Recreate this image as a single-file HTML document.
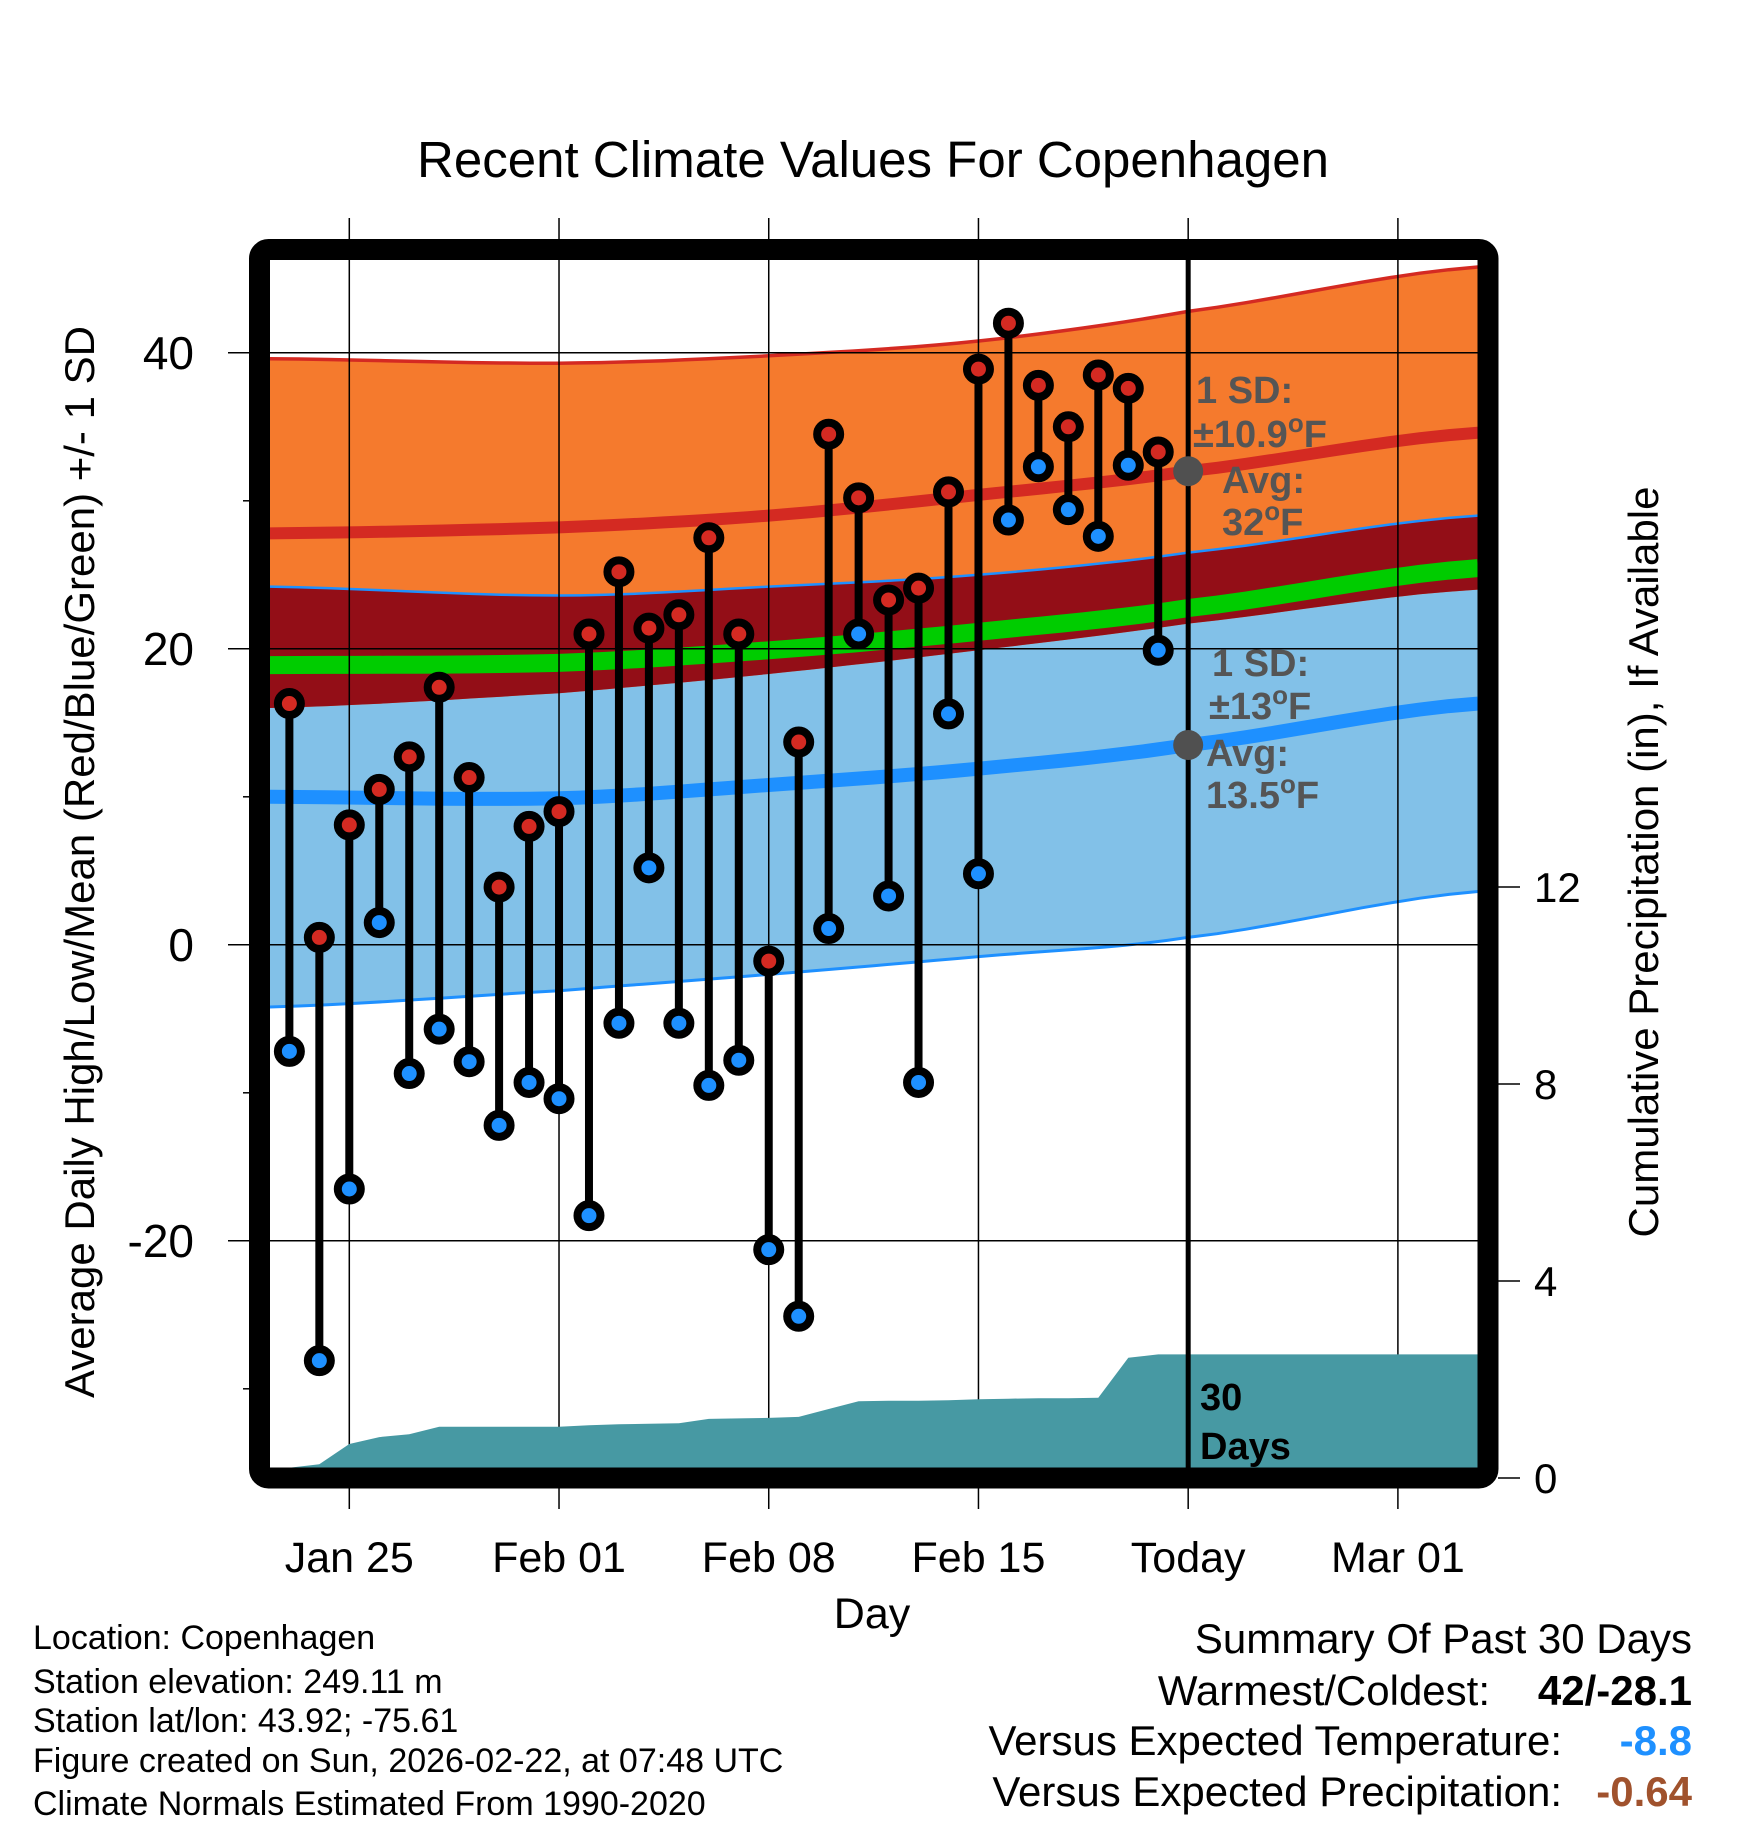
<!DOCTYPE html>
<html><head><meta charset="utf-8"><style>
html,body{margin:0;padding:0;background:#fff;}
svg{display:block;font-family:"Liberation Sans",sans-serif;}
</style></head><body>
<svg id="chart" width="1748" height="1828" viewBox="0 0 1748 1828" xmlns="http://www.w3.org/2000/svg">
<defs><clipPath id="plotClip"><rect x="270" y="260" width="1208" height="1208"/></clipPath></defs>
<g id="bands" clip-path="url(#plotClip)"></g>
<g id="grid"></g>
<g id="precip" clip-path="url(#plotClip)"></g>
<g id="marks"></g>
<g id="axes"></g>
<rect x="259.5" y="249.5" width="1228.5" height="1228.5" rx="9" fill="none" stroke="#000" stroke-width="21"/>
<text x="873" y="177" font-size="51" text-anchor="middle">Recent Climate Values For Copenhagen</text>
<text x="872" y="1628" font-size="43" text-anchor="middle">Day</text>
<text transform="translate(94,862) rotate(-90)" font-size="42" text-anchor="middle">Average Daily High/Low/Mean (Red/Blue/Green) +/- 1 SD</text>
<text transform="translate(1658,862) rotate(-90)" font-size="42" text-anchor="middle">Cumulative Precipitation (in), If Available</text>
<g font-weight="bold" font-size="38" fill="#555">
<text x="1196" y="403">1 SD:</text>
<text x="1193" y="447">±10.9<tspan font-size="26" dy="-15">o</tspan><tspan dy="15">F</tspan></text>
<text x="1222" y="493">Avg:</text>
<text x="1222" y="535">32<tspan font-size="26" dy="-15">o</tspan><tspan dy="15">F</tspan></text>
<text x="1212" y="676">1 SD:</text>
<text x="1209" y="719">±13<tspan font-size="26" dy="-15">o</tspan><tspan dy="15">F</tspan></text>
<text x="1206" y="766">Avg:</text>
<text x="1206" y="808">13.5<tspan font-size="26" dy="-15">o</tspan><tspan dy="15">F</tspan></text>
<text x="1200" y="1410" fill="#000">30</text>
<text x="1200" y="1459" fill="#000">Days</text>
</g>
<g font-size="34">
<text x="33" y="1649">Location: Copenhagen</text>
<text x="33" y="1693">Station elevation: 249.11 m</text>
<text x="33" y="1732">Station lat/lon: 43.92; -75.61</text>
<text x="33" y="1772">Figure created on Sun, 2026-02-22, at 07:48 UTC</text>
<text x="33" y="1815">Climate Normals Estimated From 1990-2020</text>
</g>
<g font-size="42">
<text x="1692" y="1653" text-anchor="end">Summary Of Past 30 Days</text>
<text x="1490" y="1705" text-anchor="end">Warmest/Coldest:</text>
<text x="1692" y="1705" text-anchor="end" font-weight="bold">42/-28.1</text>
<text x="1562" y="1755" text-anchor="end">Versus Expected Temperature:</text>
<text x="1692" y="1755" text-anchor="end" font-weight="bold" fill="#1e90ff">-8.8</text>
<text x="1562" y="1806" text-anchor="end">Versus Expected Precipitation:</text>
<text x="1692" y="1806" text-anchor="end" font-weight="bold" fill="#a0522d">-0.64</text>
</g>
</svg>
<script>
// ---- data ----
const dayLabels = ["Jan 23","Jan 24","Jan 25","Jan 26","Jan 27","Jan 28","Jan 29","Jan 30","Jan 31","Feb 01","Feb 02","Feb 03","Feb 04","Feb 05","Feb 06","Feb 07","Feb 08","Feb 09","Feb 10","Feb 11","Feb 12","Feb 13","Feb 14","Feb 15","Feb 16","Feb 17","Feb 18","Feb 19","Feb 20","Feb 21"];
const dayOffsets = [-2,-1,0,1,2,3,4,5,6,7,8,9,10,11,12,13,14,15,16,17,18,19,20,21,22,23,24,25,26,27];
const highs = [16.3,0.5,8.1,10.5,12.7,17.4,11.3,3.9,8.0,9.0,21.0,25.2,21.4,22.3,27.5,21.0,-1.1,13.7,34.5,30.2,23.3,24.1,30.6,38.9,42.0,37.8,35.0,38.5,37.6,33.3];
const lows = [-7.2,-28.1,-16.5,1.5,-8.7,-5.7,-7.9,-12.2,-9.3,-10.4,-18.3,-5.3,5.2,-5.3,-9.5,-7.8,-20.6,-25.1,1.1,21.0,3.3,-9.3,15.6,4.8,28.7,32.3,29.4,27.6,32.4,19.9];
const precipCum = [0.21,0.28,0.69,0.83,0.89,1.04,1.04,1.04,1.04,1.04,1.07,1.09,1.10,1.11,1.20,1.21,1.22,1.24,1.40,1.56,1.57,1.57,1.58,1.60,1.61,1.62,1.62,1.63,2.44,2.51];
const normDays = [-2.65,7,14,21,28,37.67];
const highUpper = [39.6,39.3,39.8,40.8,42.8,45.8];
const highAvg = [27.8,28.2,29.0,30.4,32.0,34.6];
const highLower = [16.0,17.0,18.3,19.9,21.7,24.0];
const lowUpper = [24.2,23.6,24.2,25.0,26.5,29.0];
const lowAvg = [10.0,9.9,10.8,11.9,13.5,16.3];
const lowLower = [-4.2,-3.1,-2.0,-0.8,0.5,3.6];
const meanAvg = [18.9,19.05,19.9,21.15,22.75,25.45];
const xTickDays = [0,7,14,21,28,35];
const xTickLabels = ["Jan 25","Feb 01","Feb 08","Feb 15","Today","Mar 01"];
const yTicks = [40,20,0,-20];
const yMinorTicks = [30,10,-10,-30];
const y2Ticks = [0,4,8,12];
const todayDay = 28;
const todayHighAvg = 32.0;
const todayLowAvg = 13.5;

// ---- scales ----
const X = d => 349.3 + d * 29.96;
const Y = v => 944.8 - v * 14.8;
const Y2 = p => 1478 - p * 49.25;
const NS = "http://www.w3.org/2000/svg";
function mk(tag, attrs, parent){
  const e = document.createElementNS(NS, tag);
  for (const k in attrs) e.setAttribute(k, attrs[k]);
  parent.appendChild(e); return e;
}
function smoothPts(days, vals){
  const pts=[]; const n=days.length;
  for(let i=0;i<n-1;i++){
    const p0=vals[Math.max(i-1,0)],p1=vals[i],p2=vals[i+1],p3=vals[Math.min(i+2,n-1)];
    for(let s=0;s<10;s++){
      const t=s/10,t2=t*t,t3=t2*t;
      const v=0.5*((2*p1)+(-p0+p2)*t+(2*p0-5*p1+4*p2-p3)*t2+(-p0+3*p1-3*p2+p3)*t3);
      pts.push([X(days[i]+(days[i+1]-days[i])*t),Y(v)]);
    }
  }
  pts.push([X(days[n-1]),Y(vals[n-1])]);
  return pts;
}
const ptsStr = p => p.map(a=>a[0].toFixed(1)+","+a[1].toFixed(1)).join(" ");
function band(upper, lower, fill, name, parent){
  const up=smoothPts(normDays,upper), lo=smoothPts(normDays,lower).reverse();
  const e=mk("polygon",{points:ptsStr(up.concat(lo)),fill:fill},parent);
  
  
}
function line(vals, color, w, name, parent){
  const e=mk("polyline",{points:ptsStr(smoothPts(normDays,vals)),fill:"none",stroke:color,"stroke-width":w},parent);
  
  
}
const bands=document.getElementById("bands");
band(lowUpper,lowLower,"#82c1e8","low-sd-band",bands);
band(highUpper,highLower,"#f57a2d","high-sd-band",bands);
band(lowUpper,highLower,"#930e17","overlap-band",bands);
line(highUpper,"#d42a22",3.5,"high-upper-line",bands);
line(lowUpper,"#1e90ff",2.5,"low-upper-line",bands);
line(lowLower,"#1e90ff",3,"low-lower-line",bands);
line(highAvg,"#d42a22",12,"avg-high-line",bands);
line(lowAvg,"#1e90ff",14,"avg-low-line",bands);
line(meanAvg,"#00cc00",18,"avg-mean-line",bands);

// grid
const grid=document.getElementById("grid");
xTickDays.forEach((d,i)=>{
  const e=mk("line",{x1:X(d),x2:X(d),y1:218,y2:1509,stroke:"#000","stroke-width":1.5},grid);
  
  
});
yTicks.forEach(v=>{
  const e=mk("line",{x1:228,x2:1478,y1:Y(v),y2:Y(v),stroke:"#000","stroke-width":1.5},grid);
  
  
});

// precip
const pr=document.getElementById("precip");
const pp=[[270,Y2(precipCum[0])]];
precipCum.forEach((p,i)=>pp.push([X(dayOffsets[i]),Y2(p)]));
pp.push([1478,Y2(precipCum[precipCum.length-1])],[1478,1478],[270,1478]);
const pe=mk("polygon",{points:ptsStr(pp),fill:"#4799a3"},pr);



// today line
const marks=document.getElementById("marks");
const tl=mk("line",{x1:X(todayDay),x2:X(todayDay),y1:260,y2:1468,stroke:"#000","stroke-width":5},marks);



// stems + markers
highs.forEach((h,i)=>{
  const x=X(dayOffsets[i]);
  const s=mk("line",{x1:x,x2:x,y1:Y(h),y2:Y(lows[i]),stroke:"#000","stroke-width":8},marks);
  
  
});
highs.forEach((h,i)=>{
  const x=X(dayOffsets[i]);
  const a=mk("circle",{cx:x,cy:Y(h),r:11.5,fill:"#d42a22",stroke:"#000","stroke-width":8},marks);
  
  
  const b=mk("circle",{cx:x,cy:Y(lows[i]),r:11.5,fill:"#1e90ff",stroke:"#000","stroke-width":8},marks);
  
  
});
[todayHighAvg,todayLowAvg].forEach(v=>{
  const c=mk("circle",{cx:X(todayDay),cy:Y(v),r:15,fill:"#505050"},marks);
  
  
});

// axes
const axes=document.getElementById("axes");
yTicks.forEach(v=>{
  const t=mk("text",{x:194,y:Y(v)+16,"font-size":46,"text-anchor":"end"},axes);
  t.textContent=String(v);
  
  
});
yMinorTicks.forEach(v=>{
  const e=mk("line",{x1:243,x2:250,y1:Y(v),y2:Y(v),stroke:"#000","stroke-width":1.5},axes);
  
  
});
y2Ticks.forEach(p=>{
  const e=mk("line",{x1:1498,x2:1520,y1:Y2(p),y2:Y2(p),stroke:"#000","stroke-width":1.5},axes);
  
  
  const t=mk("text",{x:1534,y:Y2(p)+15,"font-size":42,"text-anchor":"start"},axes);
  t.textContent=String(p);
  
  
});
xTickDays.forEach((d,i)=>{
  const t=mk("text",{x:X(d),y:1572,"font-size":43,"text-anchor":"middle"},axes);
  t.textContent=xTickLabels[i];
  
  
});
</script>
</body></html>
